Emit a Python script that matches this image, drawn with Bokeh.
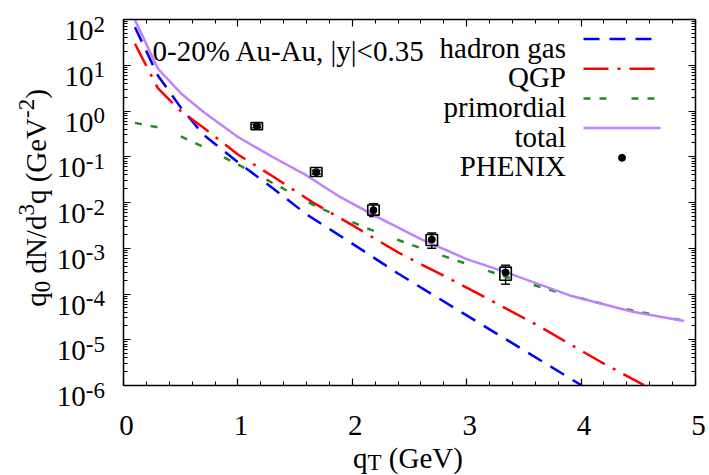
import math
from bokeh.plotting import figure
from bokeh.models import (Range1d, Label, FixedTicker, LinearAxis, LogAxis,
                          CustomJSTickFormatter, Whisker, TeeHead, ColumnDataSource)
from bokeh.embed import file_html
from bokeh.resources import INLINE

# ---------------- data ----------------
qt_hadron = [0.1, 0.3, 0.5, 0.7, 1.0, 1.3, 1.6, 2.0, 2.4, 3.0, 3.5, 4.0]
hadron_gas = [68, 6.0, 1.20, 0.30, 0.076, 0.021, 0.0055, 1.26e-3, 2.8e-4,
              3.4e-5, 5.9e-6, 1.02e-6]

qt_qgp = [0.1, 0.3, 0.5, 0.7, 1.0, 1.3, 1.65, 2.0, 2.4, 3.0, 3.6, 4.17, 4.55]
qgp = [29.5, 3.16, 1.0, 0.43, 0.112, 0.038, 0.0102, 3.2e-3, 8.1e-4, 1.38e-4,
       2.2e-5, 3.3e-6, 1.02e-6]

qt_prim = [0.1, 0.3, 0.5, 0.7, 0.9, 1.1, 1.3, 1.7, 2.1, 2.5, 2.9, 3.4, 3.9, 4.3, 4.9]
primordial = [0.55, 0.44, 0.28, 0.162, 0.091, 0.050, 0.027, 7.9e-3, 2.9e-3,
              1.23e-3, 5.5e-4, 2.14e-4, 9.3e-5, 5.2e-5, 2.6e-5]

qt_total = [0.1, 0.3, 0.5, 0.7, 1.0, 1.3, 1.6, 1.9, 2.2, 2.6, 3.0, 3.34, 3.9, 4.45, 4.9]
total = [98, 8.5, 2.45, 0.95, 0.27, 0.100, 0.039, 0.0129, 5.1e-3, 1.58e-3,
         5.8e-4, 3.0e-4, 9.3e-5, 4.1e-5, 2.57e-5]

phenix_qt = [1.165, 1.685, 2.185, 2.695, 3.34]
phenix_y = [0.47, 0.046, 0.0068, 0.00155, 2.95e-4]
phenix_stat_lo = [0.43, 0.042, 0.0049, 0.00100, 1.64e-4]
phenix_stat_hi = [0.51, 0.050, 0.0094, 0.00215, 4.26e-4]
phenix_sys_lo = [0.39, 0.037, 0.0053, 0.00115, 2.0e-4]
phenix_sys_hi = [0.56, 0.058, 0.0088, 0.0020, 3.86e-4]

x_ticks = [0, 1, 2, 3, 4, 5]
y_exponents = [-6, -5, -4, -3, -2, -1, 0, 1, 2]

series_names = ["hadron gas", "QGP", "primordial", "total", "PHENIX"]
title_text = "0-20% Au-Au, |y|<0.35"

# ---------------- layout / style ----------------
FONT = "Liberation Serif"
BIG = 29
SMALL = 23
CW, CH = 709, 475
L, T, W, H = 123, 19, 572, 366          # pixel box of the data region
XMIN, XMAX = 0.0, 5.0
YMIN_E, YMAX_E = -6, 2
SYS_HALF = 0.05

COL_HAD = "#0000ff"
COL_QGP = "#ff0000"
COL_PRI = "#228b22"
COL_TOT = "#c080ff"
DASH_HAD = "16 10"
DASH_QGP = "25 9 3 9"
DASH_PRI = "7 9 7 25"
LW = 2.5

ADV = {' ': 250, '%': 833, '(': 333, ')': 333, ',': 250, '-': 333, '.': 250,
       '/': 278, '<': 564, '|': 200, 'A': 722, 'E': 611, 'G': 722, 'H': 722,
       'I': 333, 'N': 722, 'P': 556, 'Q': 722, 'T': 611, 'V': 722, 'X': 722,
       'a': 444, 'd': 500, 'e': 444, 'g': 500, 'h': 500, 'i': 278, 'l': 278,
       'm': 778, 'n': 500, 'o': 500, 'p': 500, 'q': 500, 'r': 333, 's': 389,
       't': 278, 'u': 500, 'y': 500}
for c in "0123456789":
    ADV[c] = 500


def tw(s, size):
    return sum(ADV.get(c, 500) for c in s) / 1000.0 * size


def data_x(X):
    return XMIN + (X - L) / W * (XMAX - XMIN)


def data_y(Y):
    return 10 ** (YMAX_E - (Y - T) / H * (YMAX_E - YMIN_E))


def px_x(x):
    return L + (x - XMIN) / (XMAX - XMIN) * W


def px_y(y):
    return T + (YMAX_E - math.log10(y)) / (YMAX_E - YMIN_E) * H


# the plotting frame spans the whole canvas; axes are pinned to the data box
p = figure(width=CW, height=CH, x_range=Range1d(data_x(0), data_x(CW)),
           y_range=Range1d(data_y(CH), data_y(0)), y_axis_type="log",
           output_backend="svg", toolbar_location=None,
           min_border_left=0, min_border_right=0, min_border_top=0, min_border_bottom=0)
p.xgrid.visible = False
p.ygrid.visible = False
p.background_fill_color = "white"
p.border_fill_color = "white"
p.outline_line_color = None

blank = CustomJSTickFormatter(code="return ''")
xt = FixedTicker(ticks=x_ticks, minor_ticks=[i * 0.2 for i in range(26)])
yt = FixedTicker(ticks=[10.0 ** k for k in y_exponents],
                 minor_ticks=[m * 10.0 ** k for k in range(YMIN_E, YMAX_E) for m in range(2, 10)])


def style_axis(ax, ticker, bounds, loc):
    ax.ticker = ticker
    ax.formatter = blank
    ax.bounds = bounds
    ax.fixed_location = loc
    ax.major_label_text_font_size = "1px"
    ax.major_label_standoff = 0
    ax.major_tick_in = 7
    ax.major_tick_out = 0
    ax.minor_tick_in = 4
    ax.minor_tick_out = 0
    ax.axis_line_color = "black"
    ax.axis_line_width = 1.5
    ax.major_tick_line_color = "black"
    ax.major_tick_line_width = 1.2
    ax.minor_tick_line_color = "black"
    ax.minor_tick_line_width = 1.0


XB = (XMIN, XMAX)
YB = (10.0 ** YMIN_E, 10.0 ** YMAX_E)
style_axis(p.xaxis[0], xt, XB, 10.0 ** YMIN_E)
style_axis(p.yaxis[0], yt, YB, XMIN)
top_ax = LinearAxis()
style_axis(top_ax, xt, XB, 10.0 ** YMAX_E)
p.add_layout(top_ax, "above")
right_ax = LogAxis()
style_axis(right_ax, yt, YB, XMAX)
p.add_layout(right_ax, "right")

# ---------------- curves ----------------
p.line(qt_hadron, hadron_gas, line_color=COL_HAD, line_width=LW, line_dash=DASH_HAD)
p.line(qt_qgp, qgp, line_color=COL_QGP, line_width=LW, line_dash=DASH_QGP)
p.line(qt_prim, primordial, line_color=COL_PRI, line_width=LW, line_dash=DASH_PRI)
p.line(qt_total, total, line_color=COL_TOT, line_width=LW)

# ---------------- data points ----------------
src = ColumnDataSource(dict(
    x=phenix_qt, y=phenix_y, lo=phenix_stat_lo, hi=phenix_stat_hi,
    slo=phenix_sys_lo, shi=phenix_sys_hi,
    left=[v - SYS_HALF for v in phenix_qt], right=[v + SYS_HALF for v in phenix_qt]))
p.quad(left="left", right="right", bottom="slo", top="shi", source=src,
       fill_color=None, line_color="black", line_width=1.6)
p.add_layout(Whisker(source=src, base="x", lower="lo", upper="hi",
                     line_color="black", line_width=1.4,
                     lower_head=TeeHead(size=9, line_color="black", line_width=1.4),
                     upper_head=TeeHead(size=9, line_color="black", line_width=1.4)))
p.scatter("x", "y", source=src, size=7, color="black")


# ---------------- texts (canvas pixel units, origin top-left) ----------------
def add_text(X, Y, text, size=BIG, align="left", angle=0.0):
    p.add_layout(Label(x=X, y=Y, x_units="canvas", y_units="canvas", text=text,
                       text_font=FONT, text_font_size=f"{size}px", text_align=align,
                       text_baseline="alphabetic", angle=angle, text_color="black"))


# y tick labels 10^k
for k in y_exponents:
    ex = str(k)
    ew = tw(ex, SMALL)
    ty = px_y(10.0 ** k)
    add_text(L - 18.5 - ew, ty + 11, "10", BIG, align="right")
    add_text(L - 18.5, ty + 4.5, ex, SMALL, align="right")

# x tick labels
for v in x_ticks:
    add_text(px_x(v) + 3, T + H + 39.5, str(v), BIG, align="center")

# x-axis title: q_T (GeV)
xq = 352.5
add_text(xq, 457, "q")
add_text(xq + tw("q", BIG), 462, "T", SMALL)
add_text(xq + tw("q", BIG) + tw("T", SMALL) + tw(" ", BIG), 457, "(GeV)")

# y-axis title: q_0 dN/d^3q (GeV^-2), rotated
pieces = [("q", BIG, 0), ("0", SMALL, 7), (" ", BIG, None), ("dN/d", BIG, 0),
          ("3", SMALL, -9), ("q", BIG, 0), (" ", BIG, None), ("(GeV", BIG, 0),
          ("-2", SMALL, -9), (")", BIG, 0)]
total_len = sum(tw(s, sz) for s, sz, _ in pieces)
ybase_x = 35
cur = 197.5 + total_len / 2.0
for s, sz, shift in pieces:
    if shift is not None:
        add_text(ybase_x + shift, cur, s, sz, angle=math.pi / 2)
    cur -= tw(s, sz)

# title inside the plot
add_text(152, 50, title_text)

# legend (text right-aligned, samples to the right)
leg_x_text = 565.5
leg_base0 = 47
leg_step = 29.7
leg_x0, leg_x1 = 583, 660
styles = [(COL_HAD, DASH_HAD), (COL_QGP, DASH_QGP), (COL_PRI, DASH_PRI), (COL_TOT, "solid")]
for i, name in enumerate(series_names):
    yb = leg_base0 + i * leg_step
    add_text(leg_x_text, yb, name, align="right")
    ly = yb - 8.5
    if i < 4:
        p.line([data_x(leg_x0), data_x(leg_x1)], [data_y(ly), data_y(ly)],
               line_color=styles[i][0], line_width=LW, line_dash=styles[i][1])
    else:
        p.scatter([data_x((leg_x0 + leg_x1) / 2.0)], [data_y(ly)], size=7, color="black")

open("out.html", "w").write(file_html(p, INLINE))
